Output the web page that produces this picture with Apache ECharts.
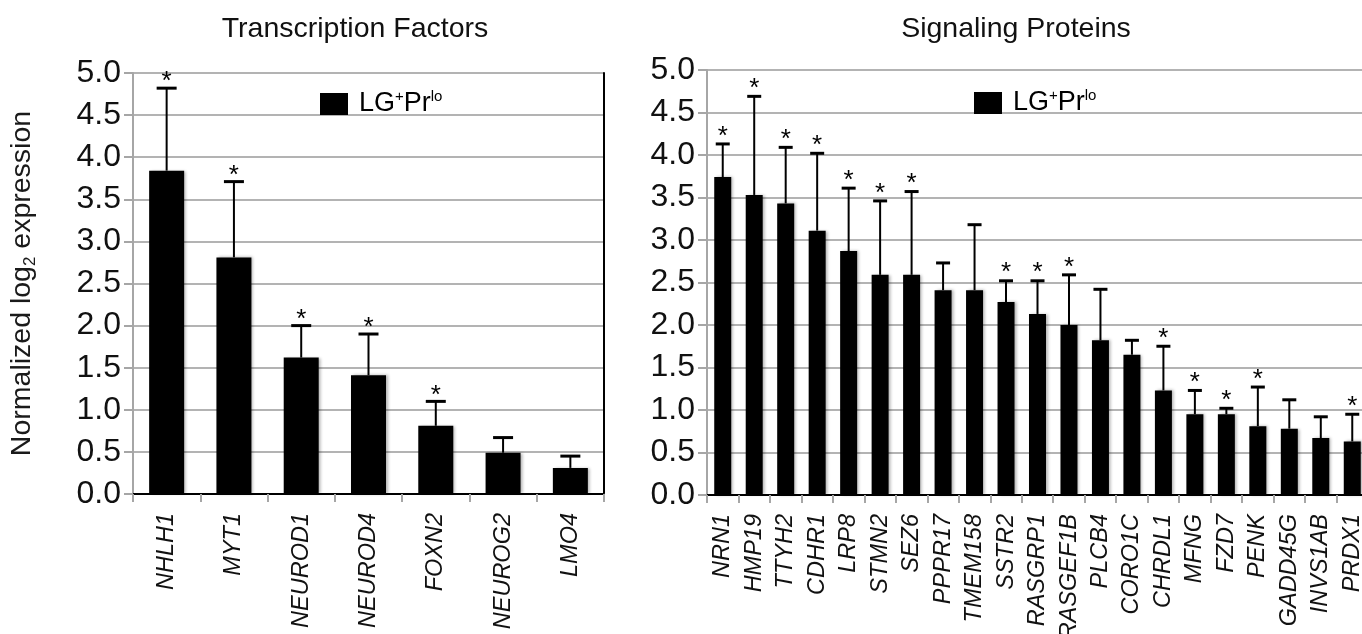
<!DOCTYPE html>
<html>
<head>
<meta charset="utf-8">
<title>LG+Prlo expression</title>
<script src="https://cdn.jsdelivr.net/npm/echarts@6/dist/echarts.min.js"></script>
<style>
  html, body { margin: 0; padding: 0; background: #fff; }
  #chart { width: 1362px; height: 634px; }
</style>
</head>
<body>
<div id="chart"></div>
<script>
// transcription factors (left panel)
const tfGenes = ['NHLH1', 'MYT1', 'NEUROD1', 'NEUROD4', 'FOXN2', 'NEUROG2', 'LMO4']
const tfValues = [3.84, 2.81, 1.62, 1.41, 0.81, 0.49, 0.31]
const tfErrors = [0.98, 0.90, 0.38, 0.49, 0.29, 0.18, 0.14]
const tfSignificant = [1, 1, 1, 1, 1, 0, 0]

// signaling proteins (right panel)
const spGenes = ['NRN1', 'HMP19', 'TTYH2', 'CDHR1', 'LRP8', 'STMN2', 'SEZ6', 'PPPR17', 'TMEM158', 'SSTR2',
  'RASGRP1', 'RASGEF1B', 'PLCB4', 'CORO1C', 'CHRDL1', 'MFNG', 'FZD7', 'PENK', 'GADD45G', 'INVS1AB', 'PRDX1']
const spValues = [3.74, 3.53, 3.43, 3.11, 2.87, 2.59, 2.59, 2.41, 2.41, 2.27,
  2.13, 2.00, 1.82, 1.65, 1.23, 0.95, 0.95, 0.81, 0.78, 0.67, 0.63]
const spErrors = [0.39, 1.16, 0.66, 0.91, 0.74, 0.87, 0.98, 0.32, 0.77, 0.25,
  0.39, 0.59, 0.60, 0.17, 0.52, 0.28, 0.07, 0.46, 0.34, 0.25, 0.32]
const spSignificant = [1, 1, 1, 1, 1, 1, 1, 0, 0, 1, 1, 1, 0, 0, 1, 1, 1, 1, 0, 0, 1]

const yTicks = ['0.0', '0.5', '1.0', '1.5', '2.0', '2.5', '3.0', '3.5', '4.0', '4.5', '5.0']

const seriesName = 'LG+Prlo'
const FONT = "'Liberation Sans', Arial, Helvetica, sans-serif"
const GRID_GRAY = '#b3b3b3'
const AXIS_GRAY = '#a6a6a6'

// error bar (upper whisker only) plus asterisk for significant genes
function errorBars(capHalf, starGap) {
  return function (params, api) {
    const i = api.value(0)
    const v = api.value(1)
    const e = api.value(2)
    const sig = api.value(3)
    const base = api.coord([i, v])
    const top = api.coord([i, v + e])
    const children = [
      {
        type: 'line',
        shape: { x1: base[0], y1: base[1], x2: top[0], y2: top[1] },
        style: { stroke: '#000', lineWidth: 2 }
      },
      {
        type: 'line',
        shape: { x1: top[0] - capHalf, y1: top[1], x2: top[0] + capHalf, y2: top[1] },
        style: { stroke: '#000', lineWidth: 3 }
      }
    ]
    if (sig) {
      children.push({
        type: 'text',
        style: {
          x: top[0], y: top[1] - starGap, text: '*',
          fill: '#000', font: '26px ' + FONT,
          align: 'center', verticalAlign: 'middle'
        }
      })
    }
    return { type: 'group', children: children }
  }
}

function errData(values, errors, sig) {
  return values.map((v, i) => [i, v, errors[i], sig[i]])
}

function valueAxis(gridIndex, extra) {
  return Object.assign({
    type: 'value',
    gridIndex: gridIndex,
    min: 0,
    max: 5,
    interval: 0.5,
    axisLine: { show: true, lineStyle: { color: AXIS_GRAY, width: 2 } },
    axisTick: { show: true, length: 9, lineStyle: { color: AXIS_GRAY, width: 2 } },
    splitLine: { show: true, lineStyle: { color: GRID_GRAY, width: 2 } },
    axisLabel: {
      fontSize: 32, color: '#111', margin: 12,
      formatter: v => yTicks[Math.round(v * 2)]
    }
  }, extra || {})
}

function categoryAxis(gridIndex, genes) {
  return {
    type: 'category',
    gridIndex: gridIndex,
    data: genes,
    axisLine: { lineStyle: { color: AXIS_GRAY, width: 2 } },
    axisTick: { show: true, length: 8, lineStyle: { color: AXIS_GRAY, width: 2 } },
    axisLabel: {
      rotate: 90, interval: 0, margin: 19,
      fontSize: 23.5, fontStyle: 'italic', color: '#111'
    }
  }
}

// black plot-area border on top and right
function borderX(gridIndex, genes) {
  return {
    type: 'category', gridIndex: gridIndex, position: 'top', data: genes,
    axisLine: { lineStyle: { color: '#000', width: 2 } },
    axisTick: { show: false }, axisLabel: { show: false }
  }
}
function borderY(gridIndex) {
  return {
    type: 'value', gridIndex: gridIndex, position: 'right', min: 0, max: 5,
    axisLine: { show: true, lineStyle: { color: '#000', width: 2 } },
    axisTick: { show: false }, axisLabel: { show: false }, splitLine: { show: false }
  }
}

const legendRich = {
  f: { fontSize: 27, color: '#000', padding: [0, 0, 0, 6], lineHeight: 30 },
  a: { fontSize: 27, color: '#000', lineHeight: 30 },
  s: { fontSize: 15, color: '#000', verticalAlign: 'top', lineHeight: 18 }
}
function legendAt(left, top) {
  return {
    data: [seriesName], left: left, top: top,
    icon: 'rect', itemWidth: 28, itemHeight: 22,
    selectedMode: false,
    formatter: () => '{f|LG}{s|+}{a|Pr}{s|lo}',
    textStyle: { rich: legendRich }
  }
}

const myChart = echarts.init(document.getElementById('chart'))
const option = {
  animation: false,
  textStyle: { fontFamily: FONT },
  title: [
    { text: 'Transcription Factors', left: 350, top: 10, textAlign: 'center',
      textStyle: { fontSize: 28.5, fontWeight: 'normal', color: '#111' } },
    { text: 'Signaling Proteins', left: 1011, top: 10, textAlign: 'center',
      textStyle: { fontSize: 28.5, fontWeight: 'normal', color: '#111' } }
  ],
  legend: [legendAt(315, 84), legendAt(969, 83)],
  grid: [
    { left: 133, top: 73, width: 471, height: 421, outerBoundsMode: 'none' },
    { left: 707, top: 70, width: 661, height: 425, outerBoundsMode: 'none' }
  ],
  xAxis: [
    categoryAxis(0, tfGenes),
    categoryAxis(1, spGenes),
    borderX(0, tfGenes),
    borderX(1, spGenes)
  ],
  yAxis: [
    valueAxis(0, {
      name: '{n|Normalized log}{sub|2}{n| expression}',
      nameLocation: 'middle',
      nameGap: 94,
      nameTextStyle: {
        rich: {
          n: { fontSize: 28.5, color: '#1a1a1a', lineHeight: 34 },
          sub: { fontSize: 17, color: '#1a1a1a', verticalAlign: 'bottom', lineHeight: 20 }
        }
      }
    }),
    valueAxis(1),
    borderY(0),
    borderY(1)
  ],
  series: [
    {
      name: seriesName, type: 'bar', xAxisIndex: 0, yAxisIndex: 0,
      data: tfValues, barWidth: 35,
      itemStyle: { color: '#000', shadowColor: 'rgba(0,0,0,0.3)', shadowBlur: 3, shadowOffsetX: 2 }
    },
    {
      type: 'custom', xAxisIndex: 0, yAxisIndex: 0, z: 5,
      renderItem: errorBars(10, 6),
      data: errData(tfValues, tfErrors, tfSignificant)
    },
    {
      name: seriesName, type: 'bar', xAxisIndex: 1, yAxisIndex: 1,
      data: spValues, barWidth: 17,
      itemStyle: { color: '#000', shadowColor: 'rgba(0,0,0,0.3)', shadowBlur: 3, shadowOffsetX: 2 }
    },
    {
      type: 'custom', xAxisIndex: 1, yAxisIndex: 1, z: 5,
      renderItem: errorBars(7, 7.5),
      data: errData(spValues, spErrors, spSignificant)
    }
  ]
}
option && myChart.setOption(option)
</script>
</body>
</html>
